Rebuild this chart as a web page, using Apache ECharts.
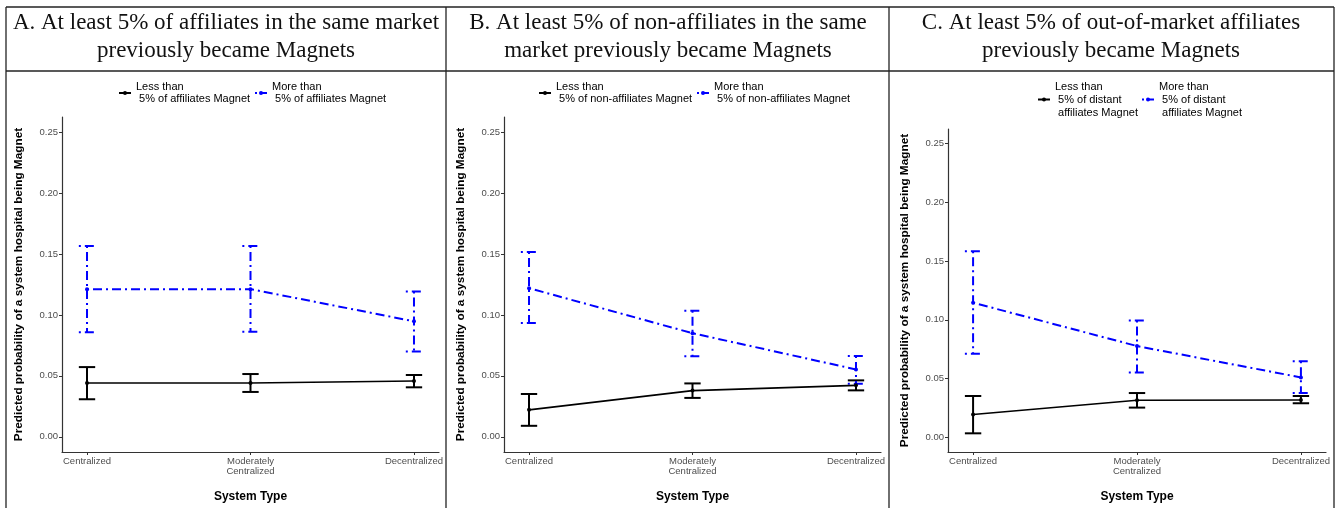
<!DOCTYPE html>
<html>
<head>
<meta charset="utf-8">
<script src="https://cdn.jsdelivr.net/npm/echarts@6/dist/echarts.min.js"></script>
<style>
html,body{margin:0;padding:0;background:#fff;}
#chart{width:1342px;height:508px;}
</style>
</head>
<body>
<div id="chart"></div>
<script>
// ---------------- DATA ----------------
const categories = ['Centralized', 'Moderately\nCentralized', 'Decentralized'];
const yTicks = [0, 0.05, 0.10, 0.15, 0.20, 0.25];
const panelTitles = [
  'A. At least 5% of affiliates in the same market\npreviously became Magnets',
  'B. At least 5% of non-affiliates in the same\nmarket previously became Magnets',
  'C. At least 5% of out-of-market affiliates\npreviously became Magnets'
];
const yAxisTitle = 'Predicted probability of a system hospital being Magnet';
const xAxisTitle = 'System Type';
const legendLess = ['Less than\n 5% of affiliates Magnet', 'Less than\n 5% of non-affiliates Magnet', 'Less than\n 5% of distant\n affiliates Magnet'];
const legendMore = ['More than\n 5% of affiliates Magnet', 'More than\n 5% of non-affiliates Magnet', 'More than\n 5% of distant\n affiliates Magnet'];

// Panel A
const A_less_est = [0.0441, 0.0441, 0.0458];
const A_less_lo  = [0.0308, 0.0368, 0.0406];
const A_less_hi  = [0.0572, 0.0515, 0.0507];
const A_more_est = [0.1212, 0.1212, 0.0948];
const A_more_lo  = [0.0858, 0.0863, 0.0700];
const A_more_hi  = [0.1566, 0.1566, 0.1193];
// Panel B
const B_less_est = [0.0221, 0.0379, 0.0422];
const B_less_lo  = [0.0090, 0.0319, 0.0381];
const B_less_hi  = [0.0351, 0.0438, 0.0463];
const B_more_est = [0.1220, 0.0850, 0.0553];
const B_more_lo  = [0.0934, 0.0662, 0.0436];
const B_more_hi  = [0.1517, 0.1035, 0.0664];
// Panel C
const C_less_est = [0.0194, 0.0315, 0.0318];
const C_less_lo  = [0.0034, 0.0253, 0.0290];
const C_less_hi  = [0.0352, 0.0377, 0.0352];
const C_more_est = [0.1146, 0.0777, 0.0510];
const C_more_lo  = [0.0712, 0.0552, 0.0377];
const C_more_hi  = [0.1585, 0.0994, 0.0648];

// ---------------- LAYOUT / STYLE ----------------
const SANS = '"Liberation Sans", Arial, sans-serif';
const SERIF = '"Liberation Serif", "Times New Roman", serif';
const BLUE = '#0000ff';
const DASHDOT = [2, 4, 9, 4];
const grids = [
  {left: 62, right: 903, top: 117, bottom: 55},
  {left: 504, right: 461, top: 117, bottom: 55},
  {left: 948, right: 16, top: 129, bottom: 53}
];
const titleCenters = [226, 668, 1111];
const legendPos = [
  {less: [118, 81], more: [254, 81]},
  {less: [538, 81], more: [696, 81]},
  {less: [1037, 80], more: [1141, 80]}
];
const panels = [
  {less: [A_less_est, A_less_lo, A_less_hi], more: [A_more_est, A_more_lo, A_more_hi]},
  {less: [B_less_est, B_less_lo, B_less_hi], more: [B_more_est, B_more_lo, B_more_hi]},
  {less: [C_less_est, C_less_lo, C_less_hi], more: [C_more_est, C_more_lo, C_more_hi]}
];
const CAP = 0.05;

function errRender(color, width, dash) {
  return function (params, api) {
    const x = api.value(0), lo = api.value(1), hi = api.value(2);
    const t = api.coord([x, hi]), b = api.coord([x, lo]);
    const l = api.coord([x - CAP, hi])[0], r = api.coord([x + CAP, hi])[0];
    const st = {stroke: color, lineWidth: width, lineDash: dash || null, fill: null};
    return {type: 'group', children: [
      {type: 'line', shape: {x1: t[0], y1: t[1], x2: b[0], y2: b[1]}, style: st},
      {type: 'line', shape: {x1: l, y1: t[1], x2: r, y2: t[1]}, style: st},
      {type: 'line', shape: {x1: l, y1: b[1], x2: r, y2: b[1]}, style: st}
    ]};
  };
}

const xAxes = [], yAxes = [], series = [], titles = [], legends = [];
const legendMap = {};
panels.forEach((p, i) => {
  xAxes.push({
    type: 'value', gridIndex: i, min: -0.153, max: 2.153,
    axisLine: {onZero: false, lineStyle: {color: '#333', width: 1.2}},
    axisTick: {show: true, length: 3, customValues: [0, 1, 2], lineStyle: {color: '#333'}},
    axisLabel: {customValues: [0, 1, 2], formatter: v => categories[Math.round(v)], color: '#4d4d4d',
      fontFamily: SANS, fontSize: 9.5, lineHeight: 10.5, margin: 4},
    splitLine: {show: false},
    name: xAxisTitle, nameLocation: 'middle', nameGap: 39,
    nameTextStyle: {fontFamily: SANS, fontWeight: 'bold', fontSize: 12, color: '#000'}
  });
  yAxes.push({
    type: 'value', gridIndex: i, min: -0.0125, max: 0.2625,
    axisLine: {show: true, onZero: false, lineStyle: {color: '#333', width: 1.2}},
    axisTick: {show: true, length: 3, customValues: yTicks, lineStyle: {color: '#333'}},
    axisLabel: {customValues: yTicks, formatter: v => v.toFixed(2), color: '#4d4d4d',
      fontFamily: SANS, fontSize: 9.5, margin: 4},
    splitLine: {show: false},
    name: yAxisTitle, nameLocation: 'middle', nameGap: 37, nameRotate: 90,
    nameTextStyle: {fontFamily: SANS, fontWeight: 'bold', fontSize: 11.8, color: '#000'}
  });
  const lessName = 'less' + i, moreName = 'more' + i;
  legendMap[lessName] = legendLess[i];
  legendMap[moreName] = legendMore[i];
  series.push({
    type: 'custom', name: lessName + '_err', xAxisIndex: i, yAxisIndex: i,
    renderItem: errRender('#000', 2, null), encode: {x: 0, y: [1, 2]},
    data: p.less[0].map((v, k) => [k, p.less[1][k], p.less[2][k]]), z: 2, silent: true
  });
  series.push({
    type: 'custom', name: moreName + '_err', xAxisIndex: i, yAxisIndex: i,
    renderItem: errRender(BLUE, 2, DASHDOT), encode: {x: 0, y: [1, 2]},
    data: p.more[0].map((v, k) => [k, p.more[1][k], p.more[2][k]]), z: 2, silent: true
  });
  series.push({
    type: 'line', name: lessName, xAxisIndex: i, yAxisIndex: i,
    data: p.less[0].map((v, k) => [k, v]),
    symbol: 'circle', symbolSize: 4, showSymbol: true,
    lineStyle: {color: '#000', width: 1.6}, itemStyle: {color: '#000'}, z: 3, animation: false
  });
  series.push({
    type: 'line', name: moreName, xAxisIndex: i, yAxisIndex: i,
    data: p.more[0].map((v, k) => [k, v]),
    symbol: 'circle', symbolSize: 4, showSymbol: true,
    lineStyle: {color: BLUE, width: 2, type: DASHDOT}, itemStyle: {color: BLUE}, z: 3, animation: false
  });
  titles.push({
    text: panelTitles[i], left: titleCenters[i], top: 9, textAlign: 'center', padding: 0,
    textStyle: {fontFamily: SERIF, fontWeight: 'normal', fontSize: 23, lineHeight: 28, color: '#111'}
  });
  const lp = legendPos[i];
  const lh = i === 2 ? 13 : 12;
  [[lessName, lp.less], [moreName, lp.more]].forEach(([nm, pos]) => {
    legends.push({
      data: [nm], left: pos[0], top: pos[1], padding: 0, itemWidth: 12, itemHeight: 5,
      selectedMode: false, formatter: n => legendMap[n],
      textStyle: {fontFamily: SANS, fontSize: 11, lineHeight: lh, color: '#000', padding: [0, 0, 0, 0]}
    });
  });
});

const border = {stroke: '#222', lineWidth: 1.3};
const chart = echarts.init(document.getElementById('chart'), null, {renderer: 'canvas'});
chart.setOption({
  animation: false,
  backgroundColor: '#fff',
  title: titles,
  legend: legends,
  grid: grids,
  xAxis: xAxes,
  yAxis: yAxes,
  series: series,
  graphic: [
    {type: 'line', shape: {x1: 6, y1: 7, x2: 1334, y2: 7}, style: border},
    {type: 'line', shape: {x1: 6, y1: 71, x2: 1334, y2: 71}, style: border},
    {type: 'line', shape: {x1: 6, y1: 7, x2: 6, y2: 508}, style: border},
    {type: 'line', shape: {x1: 446, y1: 7, x2: 446, y2: 508}, style: border},
    {type: 'line', shape: {x1: 889, y1: 7, x2: 889, y2: 508}, style: border},
    {type: 'line', shape: {x1: 1334, y1: 7, x2: 1334, y2: 508}, style: border}
  ]
});
</script>
</body>
</html>
